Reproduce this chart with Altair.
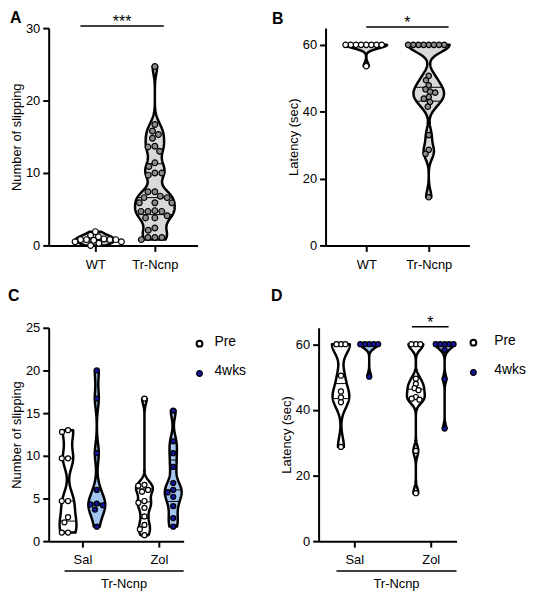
import numpy as np
import pandas as pd
import altair as alt

FONT = "Liberation Sans"

# ---------------- data ----------------
A_LABELS = ["WT", "Tr-Ncnp"]
A_WT = [0.8, 0.8, 0.8, 0.9, 1.2, 1.4, 1.9, 0.8, 0.7, 0.5, 0.5, 0.3, 0.0]
A_TR = [24.7, 16.7, 15.8, 15.3, 14.8, 13.7, 13.6, 13.0, 11.4, 10.9, 10.0, 10.0,
        9.7, 7.4, 7.4, 6.8, 6.6, 6.6, 5.9, 5.9, 5.9, 4.8, 4.7, 4.7, 4.7, 4.1,
        3.8, 3.8, 2.4, 2.1, 1.1, 1.1, 1.1, 0.8]

B_LABELS = ["WT", "Tr-Ncnp"]
B_WT = [60, 60, 60, 60, 60, 60, 60, 60, 53.6]
B_TR = [60, 60, 60, 60, 60, 60, 60, 60, 50.7, 49.4, 47.9, 46.7, 46.0, 45.7,
        44.4, 43.9, 42.9, 41.5, 33.0, 28.6, 27.4, 14.4]

CD_LABELS = ["Sal", "Zol"]
C_SAL_PRE = [13.0, 12.8, 9.7, 9.7, 4.7, 4.7, 2.8, 2.2, 1.0, 1.0]
C_SAL_4W = [20.0, 16.7, 10.3, 6.0, 4.4, 4.3, 4.2, 3.7, 1.7]
C_ZOL_PRE = [16.7, 6.6, 6.5, 6.0, 5.8, 4.7, 4.5, 3.9, 2.9, 1.9, 1.4, 0.7]
C_ZOL_4W = [15.3, 11.7, 10.3, 8.7, 6.8, 6.0, 5.7, 5.2, 4.1, 2.7, 1.7]

D_SAL_PRE = [60, 60, 60, 50.4, 45.6, 43.8, 42.3, 28.7]
D_SAL_4W = [60, 60, 60, 60, 60, 50.1]
D_ZOL_PRE = [60, 60, 60, 49.5, 47.9, 46.6, 46.0, 43.9, 43.4, 43.1, 27.5, 14.6]
D_ZOL_4W = [60, 60, 60, 60, 60, 58.3, 49.4, 34.3]

# ---------------- colours ----------------
GRAY_FILL = "#d9d9d9"
GRAY_PT = "#8c8c8c"
BLUE_FILL = "#a3c6f0"
NAVY = "#14149c"


def bandwidth(v, factor):
    sd = v.std(ddof=1)
    iqr = np.subtract(*np.percentile(v, [75, 25]))
    s = min(sd, iqr / 1.34) if iqr > 0 else sd
    return factor * 0.9 * s * len(v) ** -0.2


def kde(v, bw, n=200):
    grid = np.linspace(v.min(), v.max(), n)
    dens = np.exp(-0.5 * ((grid[:, None] - v[None, :]) / bw) ** 2).sum(1)
    return grid, dens


def beeswarm(vals, ypx, dmin):
    order = np.argsort(-vals, kind="stable")
    placed = []
    offs = np.zeros(len(vals))
    for i in order:
        y = vals[i] * ypx
        cands = [0.0]
        for px, py in placed:
            dy = abs(py - y)
            if dy < dmin:
                dx = np.sqrt(dmin ** 2 - dy ** 2)
                cands += [px + dx, px - dx]
        cands.sort(key=lambda c: (abs(c), c))
        for c in cands:
            if all((c - px) ** 2 + (y - py) ** 2 >= dmin ** 2 - 1e-6 for px, py in placed):
                offs[i] = c
                placed.append((c, y))
                break
    return offs


def panel(groups, cfg):
    W, Hh = cfg["width"], cfg["height"]
    pxu = cfg["pxu"]
    ypx = Hh / (cfg["ydom"][1] - cfg["ydom"][0])
    xdom = [1 - cfg["first_px"] / pxu, 1 - cfg["first_px"] / pxu + W / pxu]
    vrows, prows, qrows = [], [], []
    for gi, g in enumerate(groups):
        v = np.asarray(g["values"], float)
        c = g["center"] + g.get("off", 0) / pxu
        bw = max(bandwidth(v, cfg["bwf"]), cfg["bwmin_px"] / ypx)
        grid, dens = kde(v, bw)
        half = dens / dens.max() * cfg["H"] / pxu
        for y, h in zip(grid, half):
            vrows.append(dict(g=gi, v=y, xl=c - h, xr=c + h, fill=g["vfill"]))
        for qq in np.percentile(v, [25, 50, 75]):
            h = np.interp(qq, grid, half)
            qrows.append(dict(g=gi, v=qq, xl=c - h, xr=c + h))
        offs = beeswarm(v, ypx, g.get("dmin", cfg["dmin"]))
        for val, o in zip(v, offs):
            prows.append(dict(g=gi, v=val, xl=c + o / pxu, fill=g["pfill"]))
    vdf = pd.DataFrame(vrows).sort_values(["g", "v"])
    qdf = pd.DataFrame(qrows)
    pdf = pd.DataFrame(prows)

    labels = cfg["xlabels"]
    xscale = alt.Scale(domain=xdom, nice=False, zero=False)
    yscale = alt.Scale(domain=cfg["ydom"], nice=False, zero=False)
    xaxis = alt.Axis(values=[1, 2], title=None, grid=False,
                     labelExpr=f"datum.value == 1 ? '{labels[0]}' : '{labels[1]}'")
    yaxis = alt.Axis(values=cfg["yticks"], title=cfg["ytitle"], grid=False)
    X = alt.X("xl:Q", scale=xscale, axis=xaxis, title=None)
    Y = alt.Y("v:Q", scale=yscale, axis=yaxis, title=cfg["ytitle"])

    violins = alt.Chart(vdf).mark_area(
        orient="horizontal", stroke="black", strokeWidth=2.5, strokeJoin="round"
    ).encode(y=Y, x=X, x2="xr:Q", detail="g:N",
             fill=alt.Fill("fill:N", scale=None))
    quart = alt.Chart(qdf).mark_rule(color="black", strokeWidth=1).encode(
        y=Y, x=X, x2="xr:Q")
    pts = alt.Chart(pdf).mark_circle(
        size=cfg["psize"], stroke="black", strokeWidth=1.2, opacity=1
    ).encode(y=Y, x=X, fill=alt.Fill("fill:N", scale=None))
    layers = [violins, quart, pts]

    one = pd.DataFrame({"a": [0]})
    layers.append(alt.Chart(one).mark_text(
        text=cfg["letter"], font=FONT, fontSize=16, fontWeight="bold",
        align="left", baseline="top", color="black"
    ).encode(x=alt.value(cfg["letter_xy"][0]), y=alt.value(cfg["letter_xy"][1])))

    if cfg.get("sig"):
        x1, x2, yv, txt = cfg["sig"]
        sdf = pd.DataFrame({"xl": [x1], "xr": [x2], "v": [yv],
                            "xm": [(x1 + x2) / 2], "t": [txt]})
        layers.append(alt.Chart(sdf).mark_rule(color="black", strokeWidth=1.5)
                      .encode(x=X, x2="xr:Q", y=Y))
        layers.append(alt.Chart(sdf).mark_text(
            font=FONT, fontSize=16, color="black", baseline="alphabetic", dy=1
        ).encode(x=alt.X("xm:Q", scale=xscale, axis=xaxis, title=None), y=Y,
                 text="t:N"))

    if cfg.get("under"):
        u1 = 1 - 18 / pxu
        udf = pd.DataFrame({"xl": [u1], "xr": [xdom[1]], "xm": [(u1 + xdom[1]) / 2],
                            "t": ["Tr-Ncnp"]})
        layers.append(alt.Chart(udf).mark_rule(color="black", strokeWidth=1.5)
                      .encode(x=X, x2="xr:Q", y=alt.value(Hh + 30)))
        layers.append(alt.Chart(udf).mark_text(
            font=FONT, fontSize=13, color="black", baseline="middle"
        ).encode(x=alt.X("xm:Q", scale=xscale, axis=xaxis, title=None),
                 y=alt.value(Hh + 43), text="t:N"))

    if cfg.get("legend"):
        lx, ly, tx = cfg["legend"]
        for k, (lab, fc) in enumerate([("Pre", "white"), ("4wks", NAVY)]):
            layers.append(alt.Chart(one).mark_circle(
                size=34, fill=fc, stroke="black",
                strokeWidth=2 if fc == "white" else 1.2, opacity=1
            ).encode(x=alt.value(lx), y=alt.value(ly + 30 * k)))
            layers.append(alt.Chart(one).mark_text(
                text=lab, font=FONT, fontSize=14, color="black", align="left",
                baseline="middle", dy=-2
            ).encode(x=alt.value(tx), y=alt.value(ly + 30 * k)))

    return alt.layer(*layers).properties(width=W, height=Hh)


A = panel(
    [dict(center=1, values=A_WT, vfill=GRAY_FILL, pfill="white", dmin=6),
     dict(center=2, values=A_TR, vfill=GRAY_FILL, pfill=GRAY_PT)],
    dict(width=150, height=219, ydom=[0, 30], yticks=[0, 10, 20, 30],
         ytitle="Number of slipping", pxu=60, first_px=47, H=20, bwf=0.45,
         bwmin_px=4, dmin=7, psize=34, xlabels=A_LABELS, letter="A",
         letter_xy=(-39, -18), sig=(1 - 15 / 60, 2 + 9 / 60, 30.3, "***")),
)
B = panel(
    [dict(center=1, values=B_WT, vfill=GRAY_FILL, pfill="white"),
     dict(center=2, values=B_TR, vfill=GRAY_FILL, pfill=GRAY_PT)],
    dict(width=145, height=219, ydom=[0, 65], yticks=[0, 20, 40, 60],
         ytitle="Latency (sec)", pxu=63, first_px=41, H=21, bwf=0.35,
         bwmin_px=3.5, dmin=5.2, psize=30, xlabels=B_LABELS, letter="B",
         letter_xy=(-54, -17), sig=(1, 2 + 20 / 63, 65.3, "*")),
)
C = panel(
    [dict(center=1, off=-14.5, values=C_SAL_PRE, vfill="white", pfill="white"),
     dict(center=1, off=14.5, values=C_SAL_4W, vfill=BLUE_FILL, pfill=NAVY),
     dict(center=2, off=-14.5, values=C_ZOL_PRE, vfill="white", pfill="white"),
     dict(center=2, off=14.5, values=C_ZOL_4W, vfill=BLUE_FILL, pfill=NAVY)],
    dict(width=136, height=215, ydom=[0, 25], yticks=[0, 5, 10, 15, 20, 25],
         ytitle="Number of slipping", pxu=77, first_px=34, H=8.5, bwf=0.45,
         bwmin_px=4, dmin=6.3, psize=26, xlabels=CD_LABELS, letter="C",
         letter_xy=(-41, -40), under=True, legend=(152, 16, 167)),
)
D = panel(
    [dict(center=1, off=-13.5, values=D_SAL_PRE, vfill="white", pfill="white"),
     dict(center=1, off=15, values=D_SAL_4W, vfill=BLUE_FILL, pfill=NAVY),
     dict(center=2, off=-15, values=D_ZOL_PRE, vfill="white", pfill="white"),
     dict(center=2, off=14, values=D_ZOL_4W, vfill=BLUE_FILL, pfill=NAVY)],
    dict(width=139, height=215, ydom=[0, 65], yticks=[0, 20, 40, 60],
         ytitle="Latency (sec)", pxu=77, first_px=36, H=9, bwf=0.45,
         bwmin_px=4, dmin=4.5, psize=26, xlabels=CD_LABELS, letter="D",
         letter_xy=(-48, -40), under=True, legend=(156, 15, 177),
         sig=(2 - 19 / 77, 2 + 18 / 77, 65.3, "*")),
)

row1 = alt.hconcat(A, B, spacing=129, bounds="flush")
row2 = alt.hconcat(C, D, spacing=136, bounds="flush")
chart = alt.vconcat(row1, row2, spacing=17).configure_view(
    stroke=None
).configure_axis(
    domainColor="black", domainWidth=2, tickColor="black", tickWidth=2,
    tickSize=6, labelFont=FONT, labelFontSize=13, labelColor="black",
    titleFont=FONT, titleFontSize=13, titleFontWeight="normal",
    titleColor="black", labelPadding=3, titlePadding=2,
).configure_axisX(labelPadding=7).properties(padding=0)

chart.save("out.html", embed_options={"renderer": "svg", "actions": False})
